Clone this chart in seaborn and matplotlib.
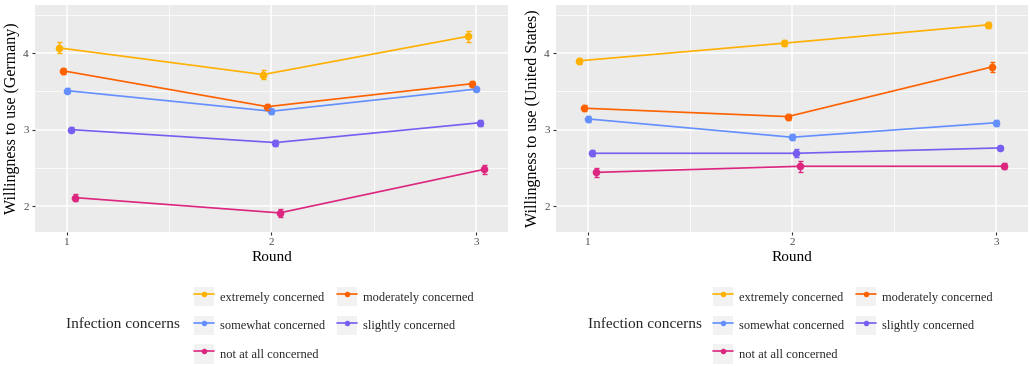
import numpy as np
import pandas as pd
import seaborn as sns
import matplotlib
matplotlib.use("Agg")
import matplotlib.pyplot as plt
from matplotlib.lines import Line2D
from matplotlib.patches import Rectangle
from matplotlib.legend_handler import HandlerTuple

rounds = [1, 2, 3]
concerns = ["extremely concerned", "moderately concerned", "somewhat concerned",
            "slightly concerned", "not at all concerned"]
colors = ["#FFB000", "#FE6100", "#648FFF", "#785EF0", "#DC267F"]

# Germany means and error half-widths
de_extremely = [4.07, 3.72, 4.22]
de_moderately = [3.77, 3.30, 3.60]
de_somewhat = [3.51, 3.24, 3.53]
de_slightly = [3.00, 2.83, 3.09]
de_notatall = [2.11, 1.91, 2.48]
de_err_extremely = [0.07, 0.06, 0.07]
de_err_moderately = [0.04, 0.04, 0.04]
de_err_somewhat = [0.03, 0.03, 0.03]
de_err_slightly = [0.03, 0.04, 0.04]
de_err_notatall = [0.05, 0.05, 0.06]

# United States means and error half-widths
us_extremely = [3.90, 4.13, 4.37]
us_moderately = [3.28, 3.17, 3.82]
us_somewhat = [3.14, 2.90, 3.09]
us_slightly = [2.69, 2.69, 2.76]
us_notatall = [2.44, 2.52, 2.52]
us_err_extremely = [0.04, 0.04, 0.04]
us_err_moderately = [0.04, 0.04, 0.07]
us_err_somewhat = [0.04, 0.04, 0.04]
us_err_slightly = [0.04, 0.05, 0.03]
us_err_notatall = [0.06, 0.07, 0.04]


def build(means, errs):
    rows = []
    for i, c in enumerate(concerns):
        for j, r in enumerate(rounds):
            rows.append({"concern": c, "round": r, "ci": i,
                         "mean": means[i][j], "err": errs[i][j]})
    return pd.DataFrame(rows)


df_de = build([de_extremely, de_moderately, de_somewhat, de_slightly, de_notatall],
              [de_err_extremely, de_err_moderately, de_err_somewhat, de_err_slightly, de_err_notatall])
df_us = build([us_extremely, us_moderately, us_somewhat, us_slightly, us_notatall],
              [us_err_extremely, us_err_moderately, us_err_somewhat, us_err_slightly, us_err_notatall])

sns.set_theme(style="darkgrid", rc={
    "axes.facecolor": "#EBEBEB",
    "grid.color": "white",
    "axes.edgecolor": "none",
})
plt.rcParams["font.family"] = ["Liberation Serif", "DejaVu Serif"]

fig = plt.figure(figsize=(10.30, 3.66), dpi=100)
ax1 = fig.add_axes([35/1030, 1-232/366, 473/1030, 227/366])
ax2 = fig.add_axes([556/1030, 1-232/366, 472/1030, 227/366])

dodge = 0.1
pal = dict(zip(concerns, colors))

for ax, df, ylab in [(ax1, df_de, "Willingness to use (Germany)"),
                     (ax2, df_us, "Willingness to use (United States)")]:
    df = df.copy()
    df["x"] = df["round"] + (df["ci"] - 2) * dodge / 4 * 0.8
    sns.lineplot(data=df, x="x", y="mean", hue="concern", palette=pal,
                 hue_order=concerns, ax=ax, legend=False, linewidth=1.2,
                 marker="o", markersize=5.5, markeredgewidth=0, zorder=3)
    for c in concerns:
        sub = df[df["concern"] == c]
        ax.errorbar(sub["x"], sub["mean"], yerr=sub["err"], fmt="none",
                    ecolor=pal[c], elinewidth=1.0, capsize=1.8, capthick=1.0, zorder=3)
    ax.set_xlim(0.845, 3.156)
    ax.set_ylim(1.66, 4.63)
    ax.set_xticks(rounds)
    ax.set_xticklabels([str(r) for r in rounds])
    ax.set_yticks([2, 3, 4])
    ax.set_xticks([1.5, 2.5], minor=True)
    ax.set_yticks([2.5, 3.5, 4.5], minor=True)
    ax.grid(which="major", color="white", linewidth=1.1)
    ax.grid(which="minor", color="white", linewidth=0.55)
    ax.tick_params(axis="both", which="major", length=2.5, width=0.8, color="#333333",
                   labelsize=8, labelcolor="#4D4D4D", pad=2, bottom=True, left=True)
    ax.tick_params(which="minor", length=0)
    ax.set_xlabel("Round", fontsize=11, labelpad=3, color="black")
    ax.set_ylabel(ylab, fontsize=11.5, labelpad=2, color="black")
    for s in ax.spines.values():
        s.set_visible(False)

# legends
order = [0, 2, 4, 1, 3]
for x0, tx in [(0.188, 66/1030), (0.692, 588/1030)]:
    handles = []
    labels = []
    for i in order:
        bg = Rectangle((0, 0), 1, 1, facecolor="#F2F2F2", edgecolor="none")
        ln = Line2D([], [], color=colors[i], marker="o", markersize=4, linewidth=1.2,
                    markeredgewidth=0)
        handles.append((bg, ln))
        labels.append(concerns[i])
    fig.legend(handles, labels, ncol=2, loc="upper left",
               bbox_to_anchor=(x0, 1 - 287/366), frameon=False,
               fontsize=9, handlelength=1.6, handleheight=2.0,
               handletextpad=0.5, columnspacing=0.92, labelspacing=0.75,
               borderpad=0, borderaxespad=0,
               handler_map={tuple: HandlerTuple(ndivide=1, pad=0)})
    fig.text(tx, 1 - 324/366, "Infection concerns", fontsize=11, va="center", ha="left")

fig.savefig("out.png", dpi=100)
